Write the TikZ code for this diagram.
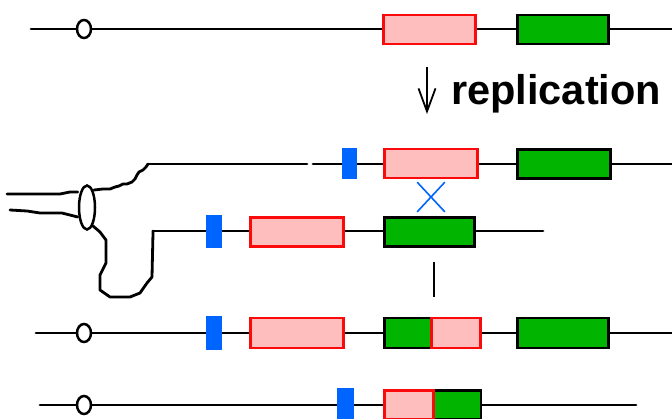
\documentclass[tikz,border=0pt]{standalone}
\usepackage{fontspec}
\setmainfont{Liberation Sans}
\usetikzlibrary{arrows.meta,shapes.misc,shapes.geometric}
\definecolor{genepink}{RGB}{255,190,190}
\definecolor{genered}{RGB}{250,10,10}
\definecolor{genegreen}{RGB}{0,180,0}
\definecolor{siteblue}{RGB}{0,100,255}
\tikzset{
  dna/.style={line width=2.8pt, line join=round, line cap=round},
  pinkbox/.style={rectangle, inner sep=0pt, fill=genepink, draw=genered, line width=2.8pt, minimum height=29pt},
  greenbox/.style={rectangle, inner sep=0pt, fill=genegreen, draw=black, line width=2.8pt, minimum height=29pt},
  sitebox/.style={rectangle, inner sep=0pt, fill=siteblue, minimum width=16pt, minimum height=32pt},
  ori/.style={ellipse, inner sep=0pt, fill=white, draw=black, line width=2.5pt, minimum width=14pt, minimum height=18pt},
}
\begin{document}
\begin{tikzpicture}[x=1pt,y=-1pt]
\useasboundingbox (0,0) rectangle (672,418);

% ---------- parental strand ----------
\coordinate (a0) at (31,29);
\coordinate (a1) at (672,29);
\draw[dna] (a0) -- (a1);
\node[ori] (aori) at (84,29) {};
\node[pinkbox, minimum width=92pt] (apink) at (429.5,29.5) {};
\node[greenbox, minimum width=91pt] (agreen) at (563,29.5) {};

% ---------- replication label ----------
\coordinate (arr0) at (427,67);
\coordinate (arr1) at (427,114);
\draw[line width=1.8pt, -{Straight Barb[length=23pt,width=17pt,line width=1.8pt]}] (arr0) -- (arr1);
\node[anchor=base west, inner sep=0pt, font=\fontsize{41.5}{41.5}\selectfont\bfseries] (rep) at (451,104) {replication};

% ---------- replication bubble ----------
\node[ellipse, draw=black, fill=white, line width=2.5pt, minimum width=16pt, minimum height=44pt, inner sep=0pt] (fork) at (87,207.5) {};
% incoming strands on the left
\draw[dna] (7,194) -- (60,194) -- (70,192) -- (fork.west |- 0,192);
\draw[dna] (10,210) -- (27,211) -- (40,213) -- (62,213) -- (fork.west |- 0,217);
% upper daughter strand
\coordinate (b0) at (148,164);
\draw[dna] (94,190) -- (103,189) -- (110,189) -- (115,187) -- (119,186) -- (123,184)
  -- (127,184) -- (132,182) -- (135,179) -- (137,175) -- (139,172) -- (143,170)
  -- (146,167) -- (b0);
\coordinate (b1) at (307,164);
\coordinate (b2) at (313,164);
\coordinate (b3) at (672,164);
\draw[dna] (b0) -- (b1);
\draw[dna] (b2) -- (b3);
\node[sitebox, minimum height=31pt, minimum width=15pt] (bsite) at (349.5,163.5) {};
\node[pinkbox, minimum width=93pt] (bpink) at (431,163.5) {};
\node[greenbox, minimum width=93pt] (bgreen) at (564,164) {};

% lower daughter strand
\coordinate (c0) at (153,231);
\draw[dna] (93,226) -- (100,232) -- (106,240) -- (106,263) -- (100,275) -- (100,290)
  -- (110,297) -- (130,297) -- (140,293) -- (147,283) -- (152,277) -- (153,233) -- (c0);
\coordinate (c1) at (543,231);
\draw[dna] (c0) -- (c1);
\node[sitebox, minimum height=33pt] (csite) at (214,231.5) {};
\node[pinkbox, minimum width=93pt] (cpink) at (297,232) {};
\node[greenbox, minimum width=90pt] (cgreen) at (429.5,232) {};

% crossover mark and link
\node[cross out, draw=siteblue, line width=1.6pt, minimum width=26pt, minimum height=28pt, inner sep=0pt] (xo) at (431,197) {};
\coordinate (v0) at (434,262);
\coordinate (v1) at (434,297);
\draw[line width=2pt] (v0) -- (v1);

% ---------- recombinant with duplication ----------
\coordinate (d0) at (36,333);
\coordinate (d1) at (672,333);
\draw[dna] (d0) -- (d1);
\node[ori] (dori) at (84,333) {};
\node[sitebox, minimum height=34pt] (dsite) at (214,333) {};
\node[pinkbox, minimum width=93pt, minimum height=30pt] (dpink) at (297,333) {};
\node[greenbox, minimum width=47pt, minimum height=30pt] (dgreen) at (408,333) {};
\node[pinkbox, minimum width=49pt, minimum height=30pt] (dpink2) at (456,333) {};
\node[greenbox, minimum width=91pt, minimum height=30pt] (dgreen2) at (563,333) {};

% ---------- recombinant with deletion ----------
\coordinate (e0) at (40,405);
\coordinate (e1) at (636,405);
\draw[dna] (e0) -- (e1);
\node[ori] (eori) at (84,405) {};
\node[sitebox, minimum width=17pt, minimum height=34pt] (esite) at (345.5,405) {};
\node[greenbox, minimum width=48pt] (egreen) at (457,405) {};
\node[pinkbox, minimum width=49pt] (epink) at (409,405) {};
\end{tikzpicture}
\end{document}
